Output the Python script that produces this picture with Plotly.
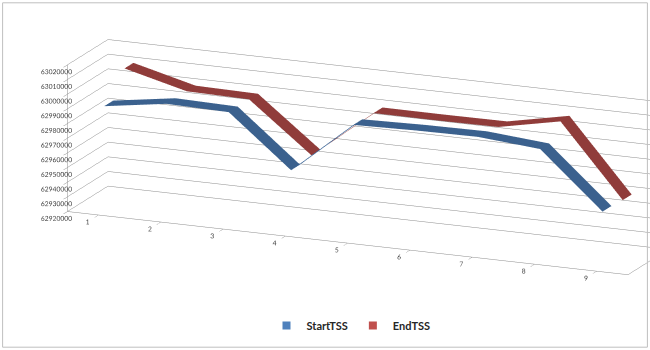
import plotly.graph_objects as go

categories = [1, 2, 3, 4, 5, 6, 7, 8, 9]
start_tss = [62991800, 62998200, 62997300, 62962500, 62998200, 62999200, 62999600, 62996100, 62958200]
end_tss = [63008900, 62998100, 62997400, 62964100, 62997600, 62997500, 62997700, 63006300, 62957400]
series_names = ["StartTSS", "EndTSS"]
series_values = [start_tss, end_tss]
series_colors = ["#4F81BD", "#C0504D"]
z_ticks = list(range(62920000, 63020001, 10000))

fig = go.Figure()
for i, (name, vals, col) in enumerate(zip(series_names, series_values, series_colors)):
    d = 0.5 + i
    fig.add_trace(go.Surface(
        x=categories, y=[d - 0.22, d + 0.22], z=[vals, vals],
        colorscale=[[0, col], [1, col]], showscale=False, hoverinfo="skip",
        lighting=dict(ambient=0.75, diffuse=0.35, specular=0.05, roughness=0.9),
        lightposition=dict(x=1000, y=-3000, z=10000), showlegend=False,
    ))
    fig.add_trace(go.Scatter3d(
        x=[None], y=[None], z=[None], mode="markers", name=name,
        marker=dict(symbol="square", size=8, color=col),
    ))

axis_common = dict(showbackground=False, showspikes=False, title=dict(text=""), tickangle=0,
                   linecolor="#8c8c8c", linewidth=1, tickfont=dict(size=9, color="#404040", family="Lato"))
k = 3.0
s = 3.70
ex, ey, ez = 0.3767, -0.8874, 0.2656
cx, cy, cz = -0.251, -0.1066, -0.029
fig.update_layout(
    width=650, height=350, margin=dict(l=0, r=0, t=0, b=0),
    paper_bgcolor="white",
    font=dict(family="Lato", color="#404040"),
    scene=dict(
        domain=dict(x=[0, 1], y=[0.089, 0.989]),
        xaxis=dict(axis_common, range=[0.5, 9.5], tickvals=categories, showgrid=False, showline=True,
                   ticks="outside", ticklen=3, tickcolor="#8c8c8c"),
        yaxis=dict(axis_common, range=[0, 2], showgrid=False, showticklabels=False, showline=True, ticks=""),
        zaxis=dict(axis_common, range=[62920000, 63020000], tickvals=z_ticks, tickformat="d",
                   showgrid=True, gridcolor="#8c8c8c", gridwidth=1, showline=True,
                   ticks="outside", ticklen=3, tickcolor="#8c8c8c"),
        aspectmode="manual", aspectratio=dict(x=1.045 * s, y=0.178 * s, z=0.261 * s),
        camera=dict(eye=dict(x=cx + ex * k, y=cy + ey * k, z=cz + ez * k),
                    center=dict(x=cx, y=cy, z=cz), up=dict(x=0, y=0, z=1),
                    projection=dict(type="orthographic")),
    ),
    legend=dict(orientation="h", x=0.54, xanchor="center", y=0.07, yanchor="middle", itemwidth=30,
                font=dict(size=11, color="#262626", family="Lato", weight="bold")),
    shapes=[dict(type="rect", xref="paper", yref="paper", x0=0.004, x1=0.996, y0=0.008, y1=0.992,
                 line=dict(color="#bfbfbf", width=1))],
)
fig.write_html("out.html", config={"displayModeBar": False})
